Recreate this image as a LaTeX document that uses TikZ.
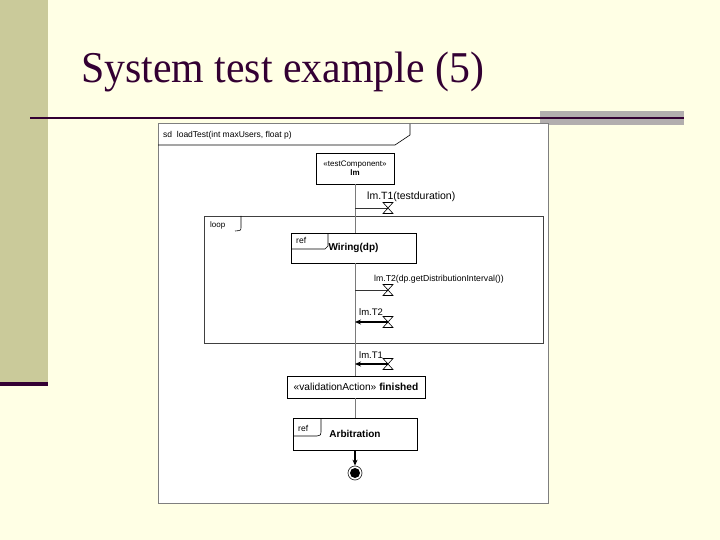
\documentclass[tikz,border=0pt]{standalone}
\usepackage{fontspec}
\setmainfont{Liberation Serif}
\newfontfamily\arialf{Liberation Sans}
\usetikzlibrary{arrows.meta,calc}
\definecolor{slidebg}{HTML}{FFFFE5}
\definecolor{barcol}{HTML}{CACA9A}
\definecolor{darkline}{HTML}{330033}
\definecolor{greybar}{HTML}{B2AEAE}
\definecolor{framegrey}{HTML}{7F7F7F}
\definecolor{lifegrey}{HTML}{7A7A7A}
\begin{document}
\begin{tikzpicture}[x=1pt,y=-1pt,
  box/.style={draw=black, line width=0.7pt, fill=white, inner sep=1pt, align=center},
  lbl/.style={inner sep=0, anchor=west, font=\arialf\fontsize{#1}{#1}\selectfont},
  hook/.style={draw=black, line width=0.6pt},
  lifeline/.style={draw=lifegrey, line width=0.8pt},
  msg/.style={draw=black!80, line width=0.6pt},
  reply/.style={draw=black, line width=1.1pt, -{Stealth[length=6pt,width=5pt]}},
  timer/.pic={\draw[line width=0.6pt] (-5,-5.5) -- (5,-5.5) -- (-5,5.5) -- (5,5.5) -- cycle;}
]
\useasboundingbox (0,0) rectangle (720,540);
\fill[slidebg] (0,0) rectangle (720,540);
% slide decoration
\fill[barcol] (0,0) rectangle (48,382);
\fill[darkline] (0,382) rectangle (48,386);
\fill[greybar] (540,111) rectangle (684,125.5);
\fill[darkline] (30,116.7) rectangle (684,119);
% title
\node[inner sep=0, anchor=base west, text=darkline, font=\fontsize{44}{44}\selectfont] (title) at (81,83) {\scalebox{0.95}[1]{System test example (5)}};
% sd frame
\draw[framegrey, line width=1pt, fill=white] (158,124) rectangle (548,503);
\draw[hook] (158,145) -- (395,145) -- (410,135) -- (410,124);
\node[lbl=8.5] (sdlabel) at (163,135) {sd\ \ loadTest(int maxUsers, float p)};
% loop frame
\draw[draw=black!75, line width=0.7pt] (204,216) rectangle (543,343);
\draw[hook] (241,216) -- (241,227) .. controls (241,230.5) .. (235,231);
\node[lbl=8] (looplabel) at (210,225.5) {loop};
% lifeline head
\node[box, minimum width=78pt, minimum height=31pt, font=\arialf\fontsize{8}{9}\selectfont] (lm) at (355,168.5) {«testComponent»\\\textbf{lm}};
% ref Wiring
\node[box, minimum width=125pt, minimum height=30pt, font=\arialf\bfseries\fontsize{10}{10}\selectfont] (wiring) at (353.5,248) {Wiring(dp)};
\draw[hook] (328,233) -- (328,246) -- (325,249) -- (291,249);
\node[lbl=8.5] (ref1) at (296,240) {ref};
% finished
\node[box, minimum width=138pt, minimum height=22pt, font=\arialf\fontsize{10.2}{10.2}\selectfont] (fin) at (356,387) {«validationAction» \textbf{finished}};
% ref Arbitration
\node[box, minimum width=124pt, minimum height=32pt, font=\arialf\bfseries\fontsize{10}{10}\selectfont] (arb) at (355,434) {Arbitration};
\draw[hook] (321,418) -- (321,432) .. controls (321,435) .. (317,436) -- (293,436);
\node[lbl=8.5] (ref2) at (298,428) {ref};
% final state
\node[circle, draw=black!80, line width=0.7pt, fill=white, minimum size=14pt, inner sep=0] (final) at (355,473) {};
\node[circle, fill=black, minimum size=10pt, inner sep=0] (finaldot) at (final) {};
% lifeline segments
\draw[lifeline] (lm.south) -- (lm.south |- wiring.north);
\draw[lifeline] (wiring.south -| lm.south) -- (fin.north -| lm.south);
\draw[lifeline] (fin.south -| lm.south) -- (arb.north -| lm.south);
\draw[reply] (arb.south -| lm.south) -- (final.north);
% timers and messages
\coordinate (t1) at (388,208);
\coordinate (t2) at (388,290);
\coordinate (t2r) at (388,322);
\coordinate (t1r) at (388,364);
\draw[msg] (t1 -| lm.south) -- (t1);
\draw[msg] (t2 -| lm.south) -- (t2);
\draw[reply] (t2r) -- (t2r -| lm.south);
\draw[reply] (t1r) -- (t1r -| lm.south);
\pic at (t1) {timer};
\pic at (t2) {timer};
\pic at (t2r) {timer};
\pic at (t1r) {timer};
\node[lbl=10.5] (m1) at (367,197) {lm.T1(testduration)};
\node[lbl=8.7] (m2) at (374,279) {lm.T2(dp.getDistributionInterval())};
\node[lbl=9.5] (m3) at (359,312) {lm.T2};
\node[lbl=9.5] (m4) at (359,355) {lm.T1};
\end{tikzpicture}
\end{document}
